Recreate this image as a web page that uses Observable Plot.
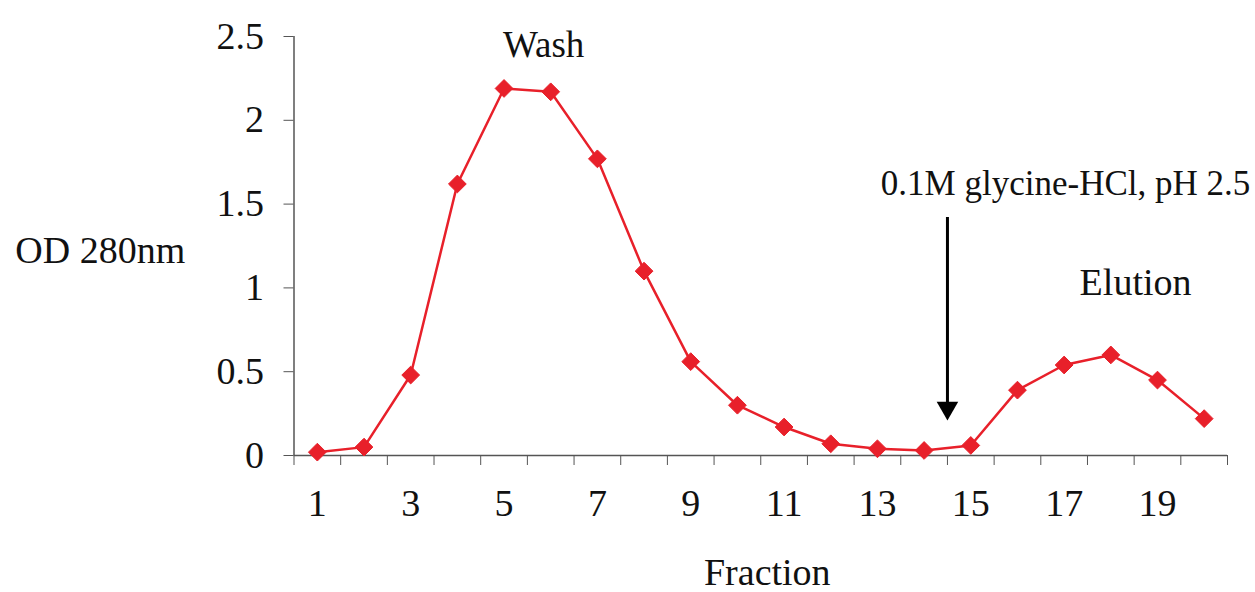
<!DOCTYPE html>
<html>
<head>
<meta charset="utf-8">
<script src="https://cdn.jsdelivr.net/npm/d3@7"></script>
<script src="https://cdn.jsdelivr.net/npm/@observablehq/plot@0.6"></script>
<style>
  html, body { margin: 0; padding: 0; background: #fff; }
</style>
</head>
<body>
<div id="chart"></div>
<script>
const fractions = [1, 2, 3, 4, 5, 6, 7, 8, 9, 10, 11, 12, 13, 14, 15, 16, 17, 18, 19, 20];
const od280 = [0.02, 0.05, 0.48, 1.62, 2.19, 2.17, 1.77, 1.10, 0.56, 0.30, 0.17, 0.07, 0.04, 0.03, 0.06, 0.39, 0.54, 0.60, 0.45, 0.22];
const xTickLabels = [1, 3, 5, 7, 9, 11, 13, 15, 17, 19];
const yTicks = [0, 0.5, 1, 1.5, 2, 2.5];
const annotLabels = ["Wash", "0.1M glycine-HCl, pH 2.5", "Elution", "Fraction", "OD 280nm"];
const annotX = [5.85, 17.03, 18.53, 10.64, -3.65];
const annotY = [2.45, 1.62, 1.03, -0.70, 1.22];
const annotSize = [37, 35, 38, 38, 38];
const arrowX = [14.5];
const arrowTop = [1.42];
const arrowHead = [0.283];

const data = fractions.map((f, i) => ({fraction: f, od: od280[i]}));
const annots = annotLabels.map((t, i) => ({text: t, x: annotX[i], y: annotY[i], size: annotSize[i]}));
const arrows = arrowX.map((x, i) => ({x, y1: arrowTop[i], y2: arrowHead[i]}));
const boundaryTicks = d3.range(0.5, 20.6, 1);

const red = "#e8202a";
const axisColor = "#555";

const chart = Plot.plot({
  width: 1255,
  height: 592,
  marginLeft: 293.5,
  marginRight: 28,
  marginTop: 36,
  marginBottom: 137,
  style: {fontFamily: "'Liberation Serif', 'Times New Roman', serif", fontSize: "38px", color: "#111", background: "#fff"},
  x: {domain: [0.5, 20.5]},
  y: {domain: [0, 2.5]},
  marks: [
    Plot.axisY({ticks: yTicks, tickSize: 10, tickPadding: 20, tickFormat: d => String(d), stroke: axisColor, fill: "#111", label: null, fontSize: 38}),
    Plot.ruleX([0.5], {stroke: axisColor, strokeWidth: 1.5}),
    Plot.ruleY([0], {stroke: axisColor, strokeWidth: 1.5}),
    Plot.axisX({ticks: boundaryTicks, tickSize: 10, tickFormat: () => "", stroke: axisColor, label: null}),
    Plot.axisX({ticks: xTickLabels, tickSize: 0, tickPadding: 34, tickFormat: d => String(d), fill: "#111", label: null, fontSize: 38}),
    Plot.line(data, {x: "fraction", y: "od", stroke: red, strokeWidth: 2.5}),
    Plot.dot(data, {x: "fraction", y: "od", symbol: "diamond2", r: 8, fill: red, stroke: red, strokeWidth: 1}),
    Plot.ruleX(arrows, {x: "x", y1: "y1", y2: "y2", stroke: "#000", strokeWidth: 3}),
    Plot.dot(arrows, {x: "x", y: "y2", symbol: "triangle", r: 8, fill: "#000", rotate: 180}),
    Plot.text(annots, {x: "x", y: "y", text: "text", fill: "#111", fontSize: d => d.size, textAnchor: "middle"})
  ]
});
document.getElementById("chart").appendChild(chart);
</script>
</body>
</html>
